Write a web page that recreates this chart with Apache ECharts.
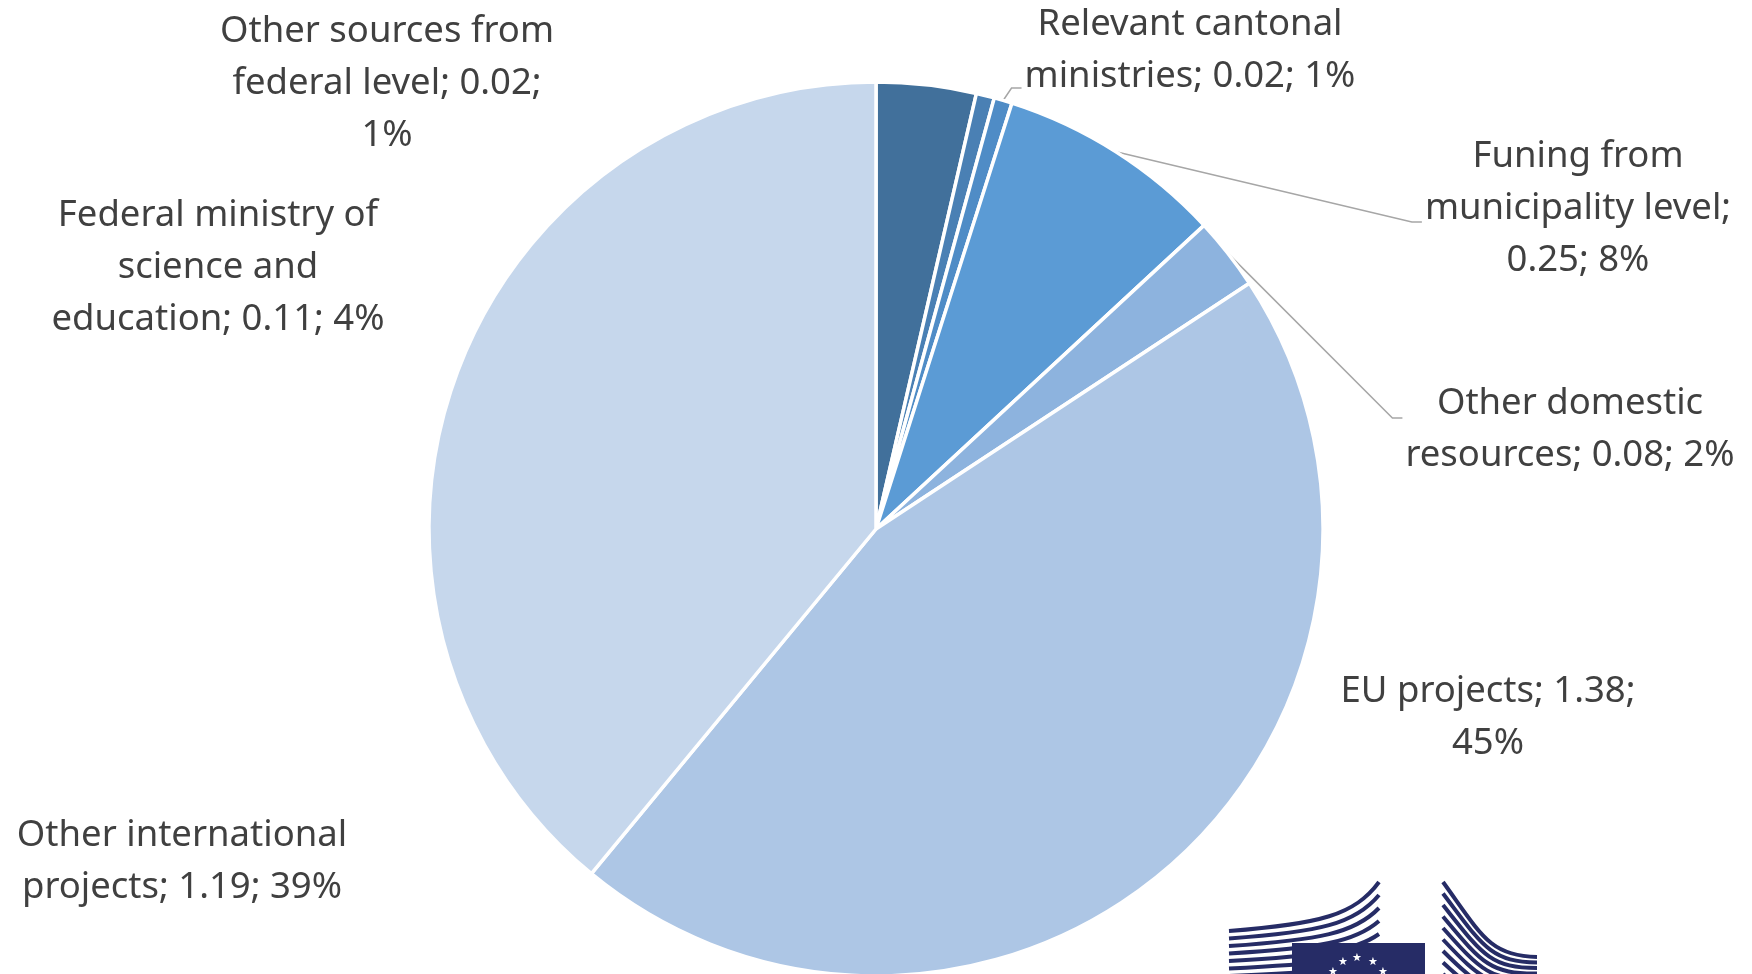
<!DOCTYPE html>
<html><head><meta charset="utf-8">
<script src="https://cdn.jsdelivr.net/npm/echarts@6/dist/echarts.min.js"></script>
<style>html,body{margin:0;padding:0;background:#fff}#chart{width:1752px;height:974px}</style>
</head><body><div id="chart"></div>
<script>
// ---- data ----
const categories = [
  'Federal ministry of\nscience and\neducation',
  'Other sources from\nfederal level',
  'Relevant cantonal\nministries',
  'Funing from\nmunicipality level',
  'Other domestic\nresources',
  'EU projects',
  'Other international\nprojects'
];
const values = [0.11, 0.02, 0.02, 0.25, 0.08, 1.38, 1.19];
const percentLabels = [4, 1, 1, 8, 2, 45, 39];
const breakModes = ['', 'pct', '', 'value', '', 'pct', ''];

// ---- styles / layout ----
const colors = ['#41709b', '#4a80b4', '#4f8cc6', '#5b9bd5', '#8db3de', '#adc6e5', '#c6d7ec'];
const labelPos = [[218, 268], [387, 84], [1190, 51], [1578, 209], [1570, 430], [1488, 718], [182, 862]];
const leaderDy = {2: 37, 3: 13, 4: -12};
const navy = '#262c66';
const FONT_FAMILY = 'Noto Sans';
const FONT_SIZE = 36.5;

const measureCtx = document.createElement('canvas').getContext('2d');
measureCtx.font = FONT_SIZE + 'px "' + FONT_FAMILY + '"';

function labelText(i) {
  const m = breakModes[i];
  return categories[i] + ';' + (m === 'value' ? '\n' : ' ') + values[i].toFixed(2) + ';' +
    (m === 'pct' ? '\n' : ' ') + percentLabels[i] + '%';
}
function labelWidth(i) {
  return Math.max.apply(null, labelText(i).split('\n').map(s => measureCtx.measureText(s).width));
}

const chart = echarts.init(document.getElementById('chart'), null, {renderer: 'canvas'});

const data = categories.map((n, i) => ({
  name: n,
  value: values[i],
  itemStyle: {color: colors[i]},
  labelLine: {show: leaderDy[i] !== undefined}
}));

// logo decoration
const graphics = [];
for (let i = 0; i < 7; i++) {
  graphics.push({type: 'bezierCurve', silent: true, z: 1,
    shape: {x1: 1229, y1: 931 + 7.5 * i, cpx1: 1320, cpy1: 924 + 8 * i, cpx2: 1355, cpy2: 915 + 9 * i, x2: 1379, y2: 882 + 13 * i},
    style: {stroke: navy, lineWidth: 4, fill: null}});
}
graphics.push({type: 'rect', silent: true, z: 2, shape: {x: 1292, y: 943, width: 133, height: 40}, style: {fill: navy}});
[[1343, 962], [1357, 958], [1373, 962], [1333, 972], [1383, 972]].forEach(p => {
  graphics.push({type: 'text', silent: true, z: 3, x: p[0], y: p[1],
    style: {text: '\u2605', fill: '#ffffff', font: '11px DejaVu Sans', align: 'center', verticalAlign: 'middle'}});
});
for (let i = 0; i < 9; i++) {
  graphics.push({type: 'bezierCurve', silent: true, z: 1,
    shape: {x1: 1443, y1: 882 + 11.5 * i, cpx1: 1482, cpy1: 936 + 9 * i, cpx2: 1490, cpy2: 956 + 6 * i, x2: 1537, y2: 957 + 5.5 * i},
    style: {stroke: navy, lineWidth: 4, fill: null}});
}

chart.setOption({
  animation: false,
  backgroundColor: '#ffffff',
  graphic: graphics,
  series: [{
    type: 'pie',
    center: [876, 529],
    radius: 447,
    startAngle: 90,
    clockwise: true,
    avoidLabelOverlap: false,
    emphasis: {disabled: true},
    itemStyle: {borderColor: '#ffffff', borderWidth: 3.5},
    label: {
      show: true,
      position: 'outside',
      color: '#404040',
      fontFamily: FONT_FAMILY,
      fontSize: FONT_SIZE,
      lineHeight: 52,
      align: 'center',
      formatter: p => labelText(p.dataIndex)
    },
    labelLine: {show: false, lineStyle: {color: '#a6a6a6', width: 1.5}},
    labelLayout: params => {
      const i = params.dataIndex;
      const pos = labelPos[i];
      const out = {x: pos[0], y: pos[1], align: 'center', verticalAlign: 'middle'};
      if (leaderDy[i] !== undefined && params.labelLinePoints) {
        const left = pos[0] - labelWidth(i) / 2;
        const ay = pos[1] + leaderDy[i];
        const p0 = params.labelLinePoints[0];
        out.labelLinePoints = [p0, [Math.max(left - 13, p0[0]), ay], [left - 3, ay]];
      }
      return out;
    },
    data: data
  }]
});
</script>
</body></html>
